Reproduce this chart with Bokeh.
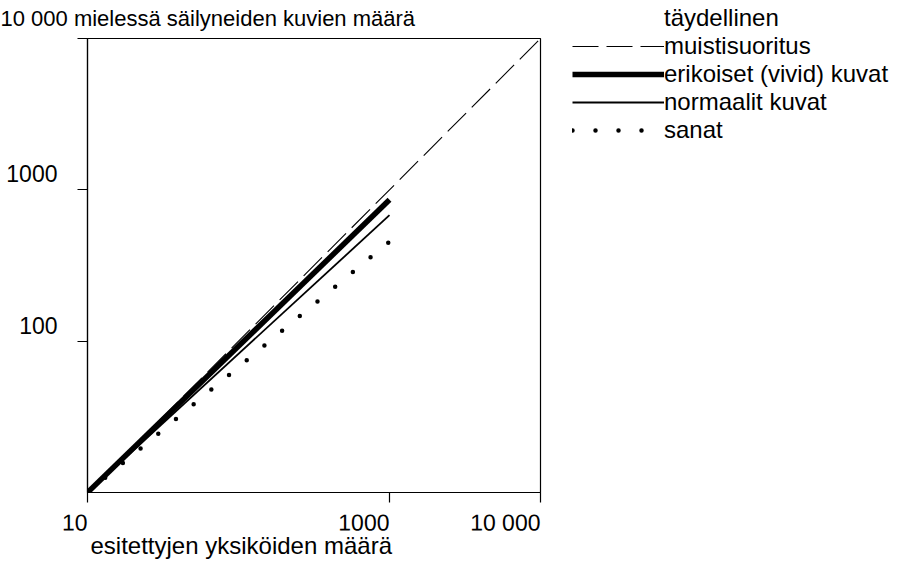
from bokeh.plotting import figure
from bokeh.models import FixedTicker, Legend, LegendItem, Range1d, Title
from bokeh.embed import file_html
from bokeh.resources import INLINE
from bokeh.core.properties import value

# ---- data ----
axis_range = [10, 10000]
perfect_x = [10, 10000]
perfect_y = [10, 10000]
series_x = [10, 1000]
vivid_y = [10, 860]
normal_y = [10, 680]
words_y = [10, 455]

x_ticks = [10, 1000, 10000]
x_tick_labels = ["10", "1000", "10 000"]
y_ticks = [100, 1000, 10000]
y_tick_labels = ["100", "1000", ""]

title_text = "10 000 mielessä säilyneiden kuvien määrä"
xlabel_text = "esitettyjen yksiköiden määrä"
legend_labels = ["täydellinen", "muistisuoritus", "erikoiset (vivid) kuvat",
                 "normaalit kuvat", "sanat"]

FONT = "Liberation Sans"

styles = {
    "perfect": dict(line_color="black", line_width=1.1, line_dash="26 8"),
    "vivid": dict(line_color="black", line_width=5.5),
    "normal": dict(line_color="black", line_width=1.8),
    "words": dict(line_color="black", line_width=4.5, line_dash="0 23",
                  line_cap="round"),
}

p = figure(frame_width=453, frame_height=454,
           x_axis_type="log", y_axis_type="log",
           x_range=Range1d(axis_range[0], axis_range[1]),
           y_range=Range1d(axis_range[0], axis_range[1]),
           output_backend="svg", toolbar_location=None,
           min_border_left=87, min_border_right=360,
           min_border_top=38, min_border_bottom=70)
p.xgrid.visible = False
p.ygrid.visible = False
p.outline_line_color = "black"
p.outline_line_width = 1.2
p.background_fill_color = "white"
p.border_fill_color = "white"

p.title.text = title_text
p.title.align = "left"
p.title.vertical_align = "top"
p.title.offset = -87
p.title.standoff = 11
p.title.text_font = FONT
p.title.text_font_size = "22px"
p.title.text_font_style = "normal"
p.title.text_color = "black"

xa = p.xaxis[0]
xa.ticker = FixedTicker(ticks=x_ticks)
xa.major_label_overrides = {t: l for t, l in zip(x_ticks, x_tick_labels)}
xa.major_label_orientation = 0.001   # right-aligned labels, as in the reference
xa.minor_tick_line_color = None
xa.major_tick_in = 0
xa.major_tick_out = 10
xa.major_label_standoff = 20
xa.major_label_text_font = FONT
xa.major_label_text_font_size = "23px"
xa.major_label_text_color = "black"
xa.axis_line_color = "black"
xa.axis_line_width = 1.2
xa.major_tick_line_width = 1.2
xa.major_tick_line_color = "black"

ya = p.yaxis[0]
ya.ticker = FixedTicker(ticks=y_ticks)
# labels sit just above their tick marks in the reference
ya.major_label_overrides = {t: (l + "\n" if l else l) for t, l in zip(y_ticks, y_tick_labels)}
ya.minor_tick_line_color = None
ya.major_tick_in = 0
ya.major_tick_out = 10
ya.major_label_standoff = 20
ya.major_label_text_font = FONT
ya.major_label_text_font_size = "23px"
ya.major_label_text_color = "black"
ya.axis_line_color = "black"
ya.axis_line_width = 1.2
ya.major_tick_line_width = 1.2
ya.major_tick_line_color = "black"

xlabel = Title(text=xlabel_text, align="left", vertical_align="top",
               offset=3, standoff=-40,
               text_font=FONT, text_font_size="24px", text_font_style="normal",
               text_color="black")
p.add_layout(xlabel, "below")

r_perf = p.line(perfect_x, perfect_y, **styles["perfect"])
r_norm = p.line(series_x, normal_y, **styles["normal"])
r_words = p.line(series_x, words_y, **styles["words"])
r_vivid = p.line(series_x, vivid_y, **styles["vivid"])

legend = Legend(items=[LegendItem(label=value(legend_labels[0]), renderers=[]),
                       LegendItem(label=value(legend_labels[1]), renderers=[r_perf]),
                       LegendItem(label=value(legend_labels[2]), renderers=[r_vivid]),
                       LegendItem(label=value(legend_labels[3]), renderers=[r_norm]),
                       LegendItem(label=value(legend_labels[4]), renderers=[r_words])],
                location=(32, 348), glyph_width=92, glyph_height=20,
                label_height=20, label_standoff=0, spacing=0,
                label_text_font=FONT, label_text_font_size="24px",
                label_text_line_height=1.0, label_text_color="black",
                border_line_color=None, background_fill_alpha=0,
                padding=0, margin=0)
p.add_layout(legend, "right")

open("out.html", "w").write(file_html(p, INLINE))
